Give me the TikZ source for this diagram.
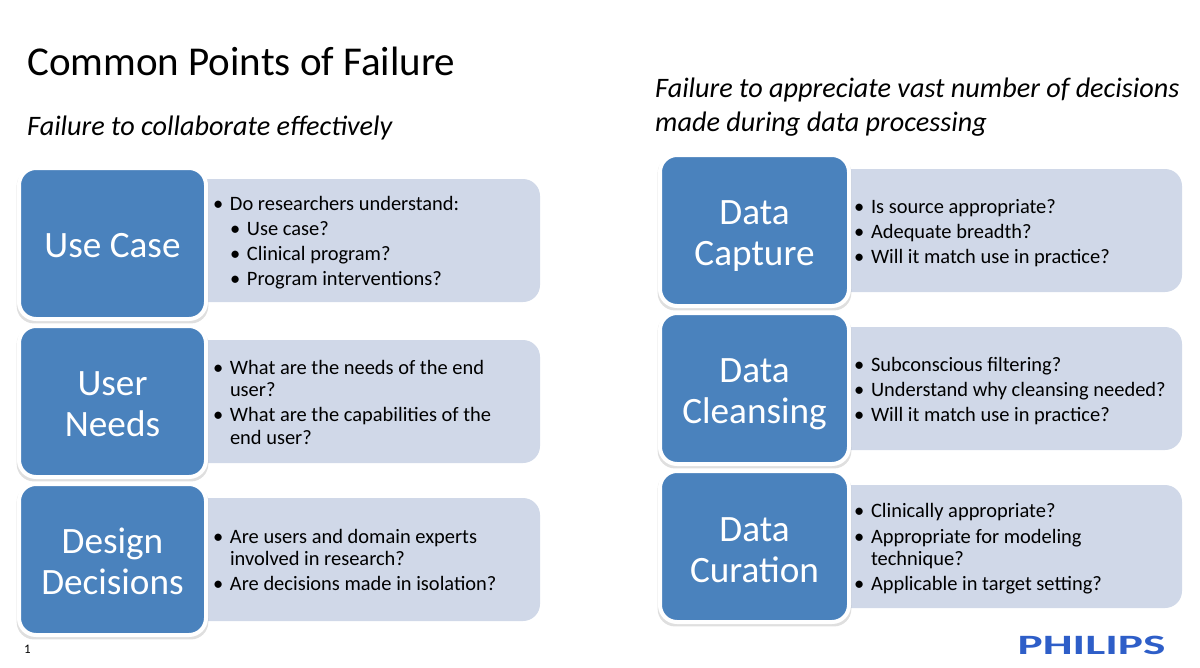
\documentclass[tikz,border=0pt]{standalone}
\usepackage{fontspec}
\usepackage{xcolor}
\usetikzlibrary{positioning,backgrounds,shadows}
\setmainfont{Carlito}
\definecolor{stageblue}{RGB}{74,130,189}
\definecolor{notegray}{RGB}{208,216,232}
\definecolor{logoblue}{RGB}{46,94,200}
\newcommand{\mainline}[1]{\hspace*{33pt}\makebox[17pt][l]{\textbullet}#1}
\newcommand{\subline}[1]{\hspace*{50pt}\makebox[17pt][l]{\textbullet}#1}
\newcommand{\contline}[1]{\hspace*{50pt}#1}

\begin{document}
\begin{tikzpicture}[x=1pt, y=1pt,
  stagebox/.style={draw=white, line width=4pt, outer sep=0pt, fill=stageblue, text=white, rounded corners=17pt, align=flush center, text width=180pt, minimum width=187pt, minimum height=151pt, font=\fontsize{37.2}{41}\selectfont, drop shadow={shadow xshift=0pt, shadow yshift=-2.5pt, shadow scale=1.025, opacity=0.25}},
  textdrop/.style={execute at begin node={\rule{0pt}{#1}}},
  notebox/.style={fill=notegray, rounded corners=17pt, outer sep=0pt, inner xsep=0pt, inner ysep=0pt, align=flush left, text width=360pt, minimum height=123pt, font=\fontsize{20.45}{22.5}\selectfont},
  headline/.style={anchor=base west, inner sep=0pt, font=\fontsize{28.2}{34}\selectfont\itshape, align=flush left}]
\useasboundingbox (0,0) rectangle (1200,-667);

\node[anchor=base west, inner sep=0pt, font=\fontsize{41}{44}\selectfont] (title) at (27,-75) {Common Points of Failure};
\node[headline] (lefthead) at (27,-135) {Failure to collaborate effectively};
\node[headline, anchor=north west] (righthead) at (655,-78) {Failure to appreciate vast number of decisions\\made during data processing};

% left column
\node[stagebox, textdrop=28pt] (usecase) at (112.5,-243.5) {Use Case};
\node[stagebox, textdrop=30pt, below=7pt of usecase] (userneeds) {User\\Needs};
\node[stagebox, textdrop=30pt, below=7pt of userneeds] (design) {Design\\Decisions};

% right column
\node[stagebox, textdrop=35pt, minimum width=189pt] (capture) at (754.5,-230.5) {Data\\Capture};
\node[stagebox, textdrop=36pt, minimum width=189pt, below=7pt of capture] (cleansing) {Data\\Cleansing};
\node[stagebox, textdrop=31pt, minimum width=189pt, below=7pt of cleansing] (curation) {Data\\Curation};

\begin{scope}[on background layer]
\node[notebox, textdrop=19pt, right=-26pt of usecase, yshift=3pt] (usecasenote) {\mainline{Do researchers understand:}\\[2.5pt]\subline{Use case?}\\[2.5pt]\subline{Clinical program?}\\[2.5pt]\subline{Program interventions?}};
\node[notebox, textdrop=16pt, right=-26pt of userneeds] (userneedsnote) {\mainline{What are the needs of the end}\\\contline{user?}\\[2.5pt]\mainline{What are the capabilities of the}\\\contline{end user?}};
\node[notebox, textdrop=15pt, right=-26pt of design] (designnote) {\mainline{Are users and domain experts}\\\contline{involved in research?}\\[2.5pt]\mainline{Are decisions made in isolation?}};
\node[notebox, textdrop=19pt, text width=361pt, right=-28pt of capture] (capturenote) {\mainline{Is source appropriate?}\\[2.5pt]\mainline{Adequate breadth?}\\[2.5pt]\mainline{Will it match use in practice?}};
\node[notebox, textdrop=19pt, text width=361pt, right=-28pt of cleansing] (cleansingnote) {\mainline{Subconscious filtering?}\\[2.5pt]\mainline{Understand why cleansing needed?}\\[2.5pt]\mainline{Will it match use in practice?}};
\node[notebox, textdrop=19pt, text width=361pt, right=-28pt of curation] (curationnote) {\mainline{Clinically appropriate?}\\[2.5pt]\mainline{Appropriate for modeling}\\\contline{technique?}\\[2.5pt]\mainline{Applicable in target setting?}};
\end{scope}

\node[anchor=base west, inner sep=0pt, font=\fontsize{13}{15}\selectfont] (pagenum) at (24,-653) {1};
\node[inner sep=0pt, text=logoblue, font=\fontsize{28}{30}\selectfont\bfseries, xscale=1.69] (logo) at (1091.5,-645.5) {PHILIPS};
\end{tikzpicture}
\end{document}
